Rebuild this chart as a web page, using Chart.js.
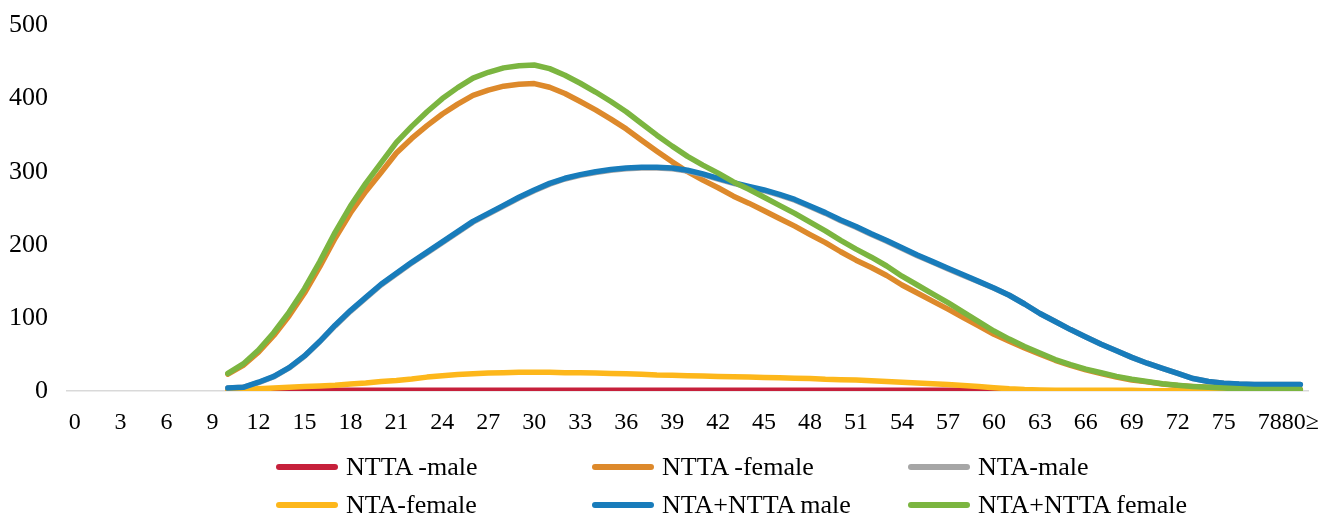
<!DOCTYPE html>
<html>
<head>
<meta charset="utf-8">
<script src="https://cdn.jsdelivr.net/npm/chart.js@4.4.1/dist/chart.umd.min.js"></script>
<style>
    body { margin: 0; background: #fff; }
    #wrap { position: relative; width: 1338px; height: 518px; }
    #chartBox { position: absolute; left: 0; top: 0; width: 1338px; height: 440px; }
    #legend { position: absolute; left: 0; top: 0; width: 1338px; height: 518px; pointer-events: none; }
    .item { position: absolute; display: flex; align-items: center; font-family: "Liberation Serif", "Times New Roman", serif; font-size: 26px; color: #000; white-space: nowrap; }
    .swatch { display: inline-block; width: 62px; height: 6px; border-radius: 3px; margin-right: 8px; }
</style>
</head>
<body>
<div id="wrap">
    <div id="chartBox"><canvas id="ageChart"></canvas></div>
    <div id="legend"></div>
</div>
<script>
const ages = ["0", "1", "2", "3", "4", "5", "6", "7", "8", "9",
    "10", "11", "12", "13", "14", "15", "16", "17", "18", "19",
    "20", "21", "22", "23", "24", "25", "26", "27", "28", "29",
    "30", "31", "32", "33", "34", "35", "36", "37", "38", "39",
    "40", "41", "42", "43", "44", "45", "46", "47", "48", "49",
    "50", "51", "52", "53", "54", "55", "56", "57", "58", "59",
    "60", "61", "62", "63", "64", "65", "66", "67", "68", "69",
    "70", "71", "72", "73", "74", "75", "76", "77", "78", "79",
    "80≥"];

const seriesNames = ["NTTA -male", "NTTA -female", "NTA-male", "NTA-female", "NTA+NTTA male", "NTA+NTTA female"];

const nttaMale = [null, null, null, null, null, null, null, null, null, null,
    0, 0, 0.5, 0.5, 0.5, 0.5, 0.5, 1, 1, 1,
    1, 1, 1, 1, 1, 1, 1, 1, 1, 1,
    1, 1, 1, 1, 1, 1, 1, 1, 1, 1,
    1, 1, 1, 1, 1, 1, 1, 1, 1, 1,
    1, 1, 1, 1, 1, 1, 1, 1, 1, 0.5,
    0.5, 0, 0, 0, 0, 0, 0, 0, 0, 0,
    0, 0, 0, 0, 0, 0, 0, 0, 0, 0,
    0];

const nttaFemale = [null, null, null, null, null, null, null, null, null, null,
    23, 35, 53, 76, 103, 134, 170, 209, 243.5, 273,
    299, 325.5, 345.5, 363, 379, 392.5, 404.5, 411.5, 417, 419.5,
    420.5, 415.5, 407, 396, 384.5, 372, 358.5, 343, 328, 313.5,
    300, 288.5, 278, 266.5, 257, 246.5, 236, 225.5, 214, 203,
    190.5, 179, 169, 158, 145, 134, 123, 112, 100.5, 89,
    77.5, 68, 59, 50.5, 42, 35, 29, 24, 19, 15,
    12.5, 9.5, 7.5, 6, 5, 4, 3, 2, 2, 2,
    2];

const ntaMale = [null, null, null, null, null, null, null, null, null, null,
    4, 5, 11.5, 19.5, 31.5, 47.5, 67.5, 89, 109, 127,
    145, 160, 175, 189, 203, 217, 231, 242, 253, 264,
    274, 283, 290, 295, 299, 302, 304, 305, 305, 304,
    301, 296, 290, 284, 279, 274, 268, 261, 252, 243,
    233, 224, 214, 205, 195, 185, 176, 167, 158, 149.5,
    140.5, 131, 119, 106, 95, 84, 74, 64, 55, 46,
    38, 31, 24, 17, 13, 10.5, 9.5, 9, 9, 9,
    9];

const ntaFemale = [null, null, null, null, null, null, null, null, null, null,
    1, 2, 3, 4, 5, 6, 7, 8, 9.5, 11,
    13, 14.5, 16.5, 19, 21, 22.5, 23.5, 24.5, 25, 25.5,
    25.5, 25.5, 25, 25, 24.5, 24, 23.5, 23, 22, 21.5,
    21, 20.5, 20, 19.5, 19, 18.5, 18, 17.5, 17, 16,
    15.5, 15, 14, 13, 12, 11, 10, 9, 7.5, 6,
    4.5, 3, 2, 1.5, 1, 1, 1, 1, 1, 1,
    0.5, 0.5, 0.5, 0, 0, 0, 0, 0, 0, 0,
    0];

const totalMale = [null, null, null, null, null, null, null, null, null, null,
    4, 5, 12, 20, 32, 48, 68, 90, 110, 128,
    146, 161, 176, 190, 204, 218, 232, 243, 254, 265,
    275, 284, 291, 296, 300, 303, 305, 306, 306, 305,
    302, 297, 291, 285, 280, 275, 269, 262, 253, 244,
    234, 225, 215, 206, 196, 186, 177, 168, 159, 150,
    141, 131, 119, 106, 95, 84, 74, 64, 55, 46,
    38, 31, 24, 17, 13, 10.5, 9.5, 9, 9, 9,
    9];

const totalFemale = [null, null, null, null, null, null, null, null, null, null,
    24, 37, 56, 80, 108, 140, 177, 217, 253, 284,
    312, 340, 362, 382, 400, 415, 428, 436, 442, 445,
    446, 441, 432, 421, 409, 396, 382, 366, 350, 335,
    321, 309, 298, 286, 276, 265, 254, 243, 231, 219,
    206, 194, 183, 171, 157, 145, 133, 121, 108, 95,
    82, 71, 61, 52, 43, 36, 30, 25, 20, 16,
    13, 10, 8, 6, 5, 4, 3, 2, 2, 2,
    2];

const colors = ["#C6203B", "#DD892B", "#A6A6A6", "#FDB71B", "#187CBB", "#7BB540"];
const allSeries = [nttaMale, nttaFemale, ntaMale, ntaFemale, totalMale, totalFemale];

const serif = "'Liberation Serif', 'Times New Roman', serif";

const datasets = allSeries.map((values, i) => ({
    label: seriesNames[i],
    data: values,
    borderColor: colors[i],
    backgroundColor: colors[i],
    borderWidth: 5.5,
    borderCapStyle: "round",
    borderJoinStyle: "round",
    pointRadius: 0,
    tension: 0,
    fill: false,
    // later series sit on top, as in the original
    order: allSeries.length - i
}));

const ctx = document.getElementById("ageChart").getContext("2d");
const chart = new Chart(ctx, {
    type: "line",
    data: { labels: ages, datasets: datasets },
    options: {
        responsive: true,
        maintainAspectRatio: false,
        animation: false,
        layout: { padding: { top: 25.5, right: 30, left: 0, bottom: 0 } },
        plugins: {
            legend: { display: false },
            tooltip: { enabled: false }
        },
        scales: {
            x: {
                type: "category",
                offset: true,
                grid: { display: false, drawTicks: false },
                border: { display: true, color: "#D9D9D9", width: 1.5 },
                ticks: {
                    autoSkip: false,
                    maxRotation: 0,
                    minRotation: 0,
                    padding: 17,
                    color: "#000",
                    font: { family: serif, size: 24 },
                    callback: function (value, index) {
                        return (index % 3 === 0 || index === ages.length - 1) ? ages[index] : "";
                    }
                },
                afterFit: s => { s.height = 49; }
            },
            y: {
                min: 0,
                max: 500,
                grid: { display: false, drawTicks: false },
                border: { display: false },
                ticks: {
                    stepSize: 100,
                    padding: 19,
                    color: "#000",
                    font: { family: serif, size: 26 }
                },
                afterFit: s => {
                    s.width = 67;
                    s.paddingTop = 0;
                    s.paddingBottom = 0;
                }
            }
        }
    }
});

// legend laid out in three even columns, two rows
const legend = document.getElementById("legend");
const colLeft = [276, 592, 908];
const rowMid = [467, 505];
seriesNames.forEach((name, i) => {
    const item = document.createElement("div");
    item.className = "item";
    item.style.left = colLeft[i % 3] + "px";
    item.style.top = (rowMid[Math.floor(i / 3)] - 15) + "px";
    item.style.height = "30px";
    const sw = document.createElement("span");
    sw.className = "swatch";
    sw.style.background = colors[i];
    const txt = document.createElement("span");
    txt.textContent = name;
    item.appendChild(sw);
    item.appendChild(txt);
    legend.appendChild(item);
});
</script>
</body>
</html>
